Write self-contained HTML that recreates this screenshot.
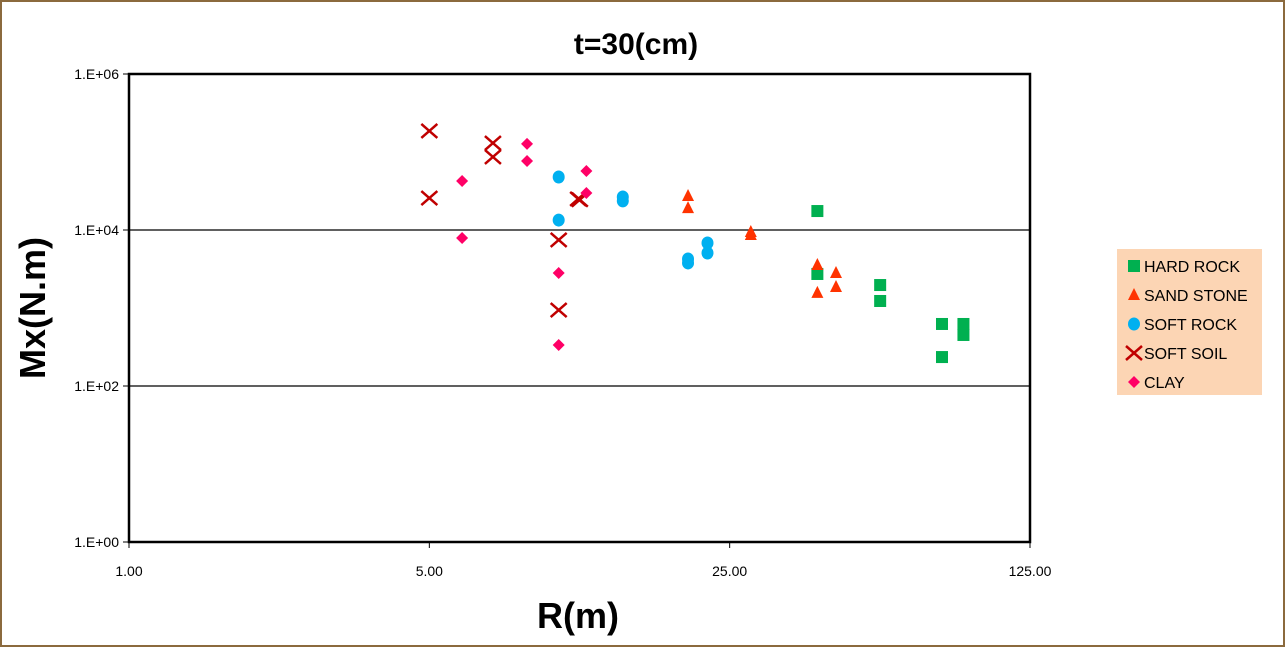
<!DOCTYPE html>
<html><head><meta charset="utf-8"><style>
body{margin:0;background:#fff;}
svg{display:block;font-family:"Liberation Sans",sans-serif;}
</style></head><body>
<svg id="c" width="1285" height="647">
<rect x="1" y="1" width="1283" height="645" fill="#fff" stroke="#8b6a3e" stroke-width="2"/>
<text x="636" y="54" font-size="30" font-weight="bold" text-anchor="middle">t=30(cm)</text>
<rect x="129" y="74" width="901" height="468" fill="#fff" stroke="#000" stroke-width="2.5"/>
<g id="grid"></g><g id="ticks"></g><g id="marks"></g>
<text x="578" y="628" font-size="36" font-weight="bold" text-anchor="middle">R(m)</text>
<text transform="translate(45,308) rotate(-90)" font-size="36" font-weight="bold" text-anchor="middle">Mx(N.m)</text>
<g>
<rect x="1117" y="249" width="145" height="146" fill="#fcd5b4"/>
<g id="legend"></g>
</g>
</svg>
<script>
const xTicks=[1,5,25,125];
const xTickLabels=["1.00","5.00","25.00","125.00"];
const yTicks=[1,100,10000,1000000];
const yTickLabels=["1.E+00","1.E+02","1.E+04","1.E+06"];
const seriesNames=["HARD ROCK","SAND STONE","SOFT ROCK","SOFT SOIL","CLAY"];
const hardRockX=[40,40,56,56,78,78,87.5,87.5];
const hardRockY=[17500,2730,1970,1230,624,235,624,451];
const sandStoneX=[20,20,28,28,40,40,44.2,44.2];
const sandStoneY=[27300,19100,9420,8630,3560,1560,2810,1860];
const softRockX=[10,10,14.1,14.1,20,20,22.2,22.2];
const softRockY=[47800,13400,26500,23600,4250,3780,6810,5070];
const softSoilX=[5,5,7.03,7.03,10,10,11.1,11.2];
const softSoilY=[186000,25700,130000,86300,7450,942,25000,24500];
const clayX=[5.96,5.96,8.44,8.44,10,10,11.6,11.6];
const clayY=[42500,7890,127000,76700,2810,336,57000,29800];

const NS="http://www.w3.org/2000/svg";
const X0=129,X1=1030,Y0=542,Y1=74;
function xs(v){return X0+(Math.log(v)/Math.log(5))/3*(X1-X0);}
function ys(v){return Y0-(Math.log10(v)/6)*(Y0-Y1);}
function mk(tag,attrs,parent){const e=document.createElementNS(NS,tag);for(const k in attrs)e.setAttribute(k,attrs[k]);document.getElementById(parent).appendChild(e);return e;}
yTicks.forEach((t,i)=>{
  const y=ys(t);
  if(i>0&&i<yTicks.length-1){const l=mk('line',{x1:X0,x2:X1,y1:y,y2:y,stroke:'#000','stroke-width':1.2},'grid');
  
  }
  const tk=mk('line',{x1:X0-6,x2:X0,y1:y,y2:y,stroke:'#000'},'ticks');
  
  
  const tx=mk('text',{x:X0-10,y:y+5,'font-size':14,'text-anchor':'end'},'ticks');tx.textContent=yTickLabels[i];
  
  
});
xTicks.forEach((t,i)=>{
  const x=xs(t);
  const tk=mk('line',{x1:x,x2:x,y1:Y0,y2:Y0+6,stroke:'#000'},'ticks');
  
  
  const tx=mk('text',{x:x,y:Y0+34,'font-size':14,'text-anchor':'middle'},'ticks');tx.textContent=xTickLabels[i];
  
  
});
function marker(type,x,y,parent){
  let e;
  if(type==0)e=mk('rect',{x:x-6,y:y-6,width:12,height:12,fill:'#00b050'},parent);
  else if(type==1)e=mk('polygon',{points:`${x},${y-7} ${x+6},${y+5} ${x-6},${y+5}`,fill:'#ff3300'},parent);
  else if(type==2)e=mk('ellipse',{cx:x,cy:y,rx:6,ry:6.5,fill:'#00b0f0'},parent);
  else if(type==3)e=mk('path',{d:`M${x-8},${y-7}L${x+8},${y+7}M${x-8},${y+7}L${x+8},${y-7}`,stroke:'#c00000','stroke-width':2.5,fill:'none'},parent);
  else e=mk('polygon',{points:`${x},${y-6} ${x+6},${y} ${x},${y+6} ${x-6},${y}`,fill:'#ff0066'},parent);
  return e;
}
const all=[[hardRockX,hardRockY],[sandStoneX,sandStoneY],[softRockX,softRockY],[softSoilX,softSoilY],[clayX,clayY]];
const keys=['hard-rock','sand-stone','soft-rock','soft-soil','clay'];
all.forEach((s,si)=>{
  s[0].forEach((xv,i)=>{
    const e=marker(si,xs(xv),ys(s[1][i]),'marks');
    
    
  });
});
seriesNames.forEach((n,i)=>{
  const y=266+i*29;
  const m=marker(i,1134,y,'legend');
  
  
  const t=mk('text',{x:1144,y:y+6,'font-size':16},'legend');t.textContent=n;
  
  
});
</script>
</body></html>
